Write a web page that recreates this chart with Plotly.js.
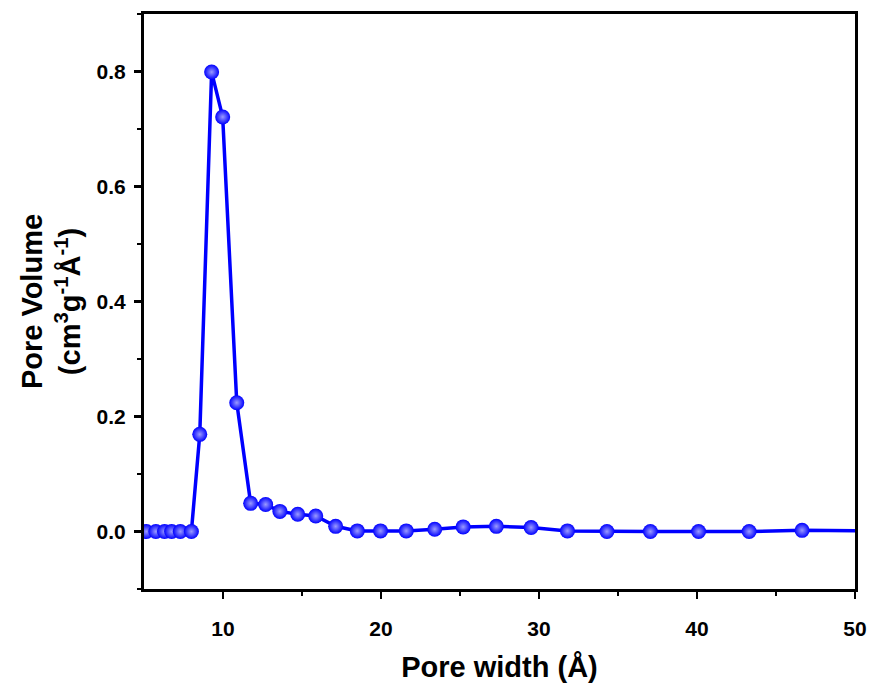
<!DOCTYPE html>
<html>
<head>
<meta charset="utf-8">
<script src="https://cdn.plot.ly/plotly-3.0.1.min.js"></script>
<style>html,body{margin:0;padding:0;background:#fff;}#chart{width:874px;height:686px;}</style>
</head>
<body>
<div id="chart"></div>
<script>
const poreWidth = [5.15, 5.75, 6.3, 6.75, 7.3, 8.0, 8.53, 9.28, 9.98, 10.87, 11.75, 12.7, 13.6, 14.73, 15.87, 17.13, 18.5, 19.97, 21.6, 23.4, 25.2, 27.3, 29.5, 31.8, 34.3, 37.05, 40.1, 43.3, 46.65, 50.5];
const poreVolume = [0, 0, 0, 0, 0, 0, 0.169, 0.799, 0.721, 0.224, 0.049, 0.047, 0.035, 0.030, 0.027, 0.009, 0.001, 0.001, 0.001, 0.004, 0.008, 0.009, 0.007, 0.001, 0, 0, 0, 0, 0.002, 0.001];
const xTitle = 'Pore width (Å)';
const yTitle = 'Pore Volume<br>(cm<sup>3</sup>g<sup>-1</sup>Å<sup>-1</sup>)';

const fontFam = 'Liberation Sans, Arial, sans-serif';
const trace = {
  x: poreWidth, y: poreVolume, mode: 'lines+markers', type: 'scatter',
  line: {color: '#0000ff', width: 3.5},
  marker: {color: '#0000ff', size: 15, gradient: {type: 'radial', color: '#9a9aff'}, line: {width: 0}},
  showlegend: false
};
const axisCommon = {
  showline: true, linecolor: '#000', linewidth: 3, mirror: true,
  ticks: 'outside', tickwidth: 2.5, ticklen: 7, tickcolor: '#000',
  showgrid: false, zeroline: false,
  tickfont: {family: fontFam, size: 21, color: '#000', weight: 'bold'},
  minor: {ticks: 'outside', ticklen: 4, tickwidth: 2.5, tickcolor: '#000', showgrid: false}
};
const layout = {
  width: 874, height: 686,
  margin: {l: 144, r: 19, t: 14, b: 97},
  paper_bgcolor: '#fff', plot_bgcolor: '#fff',
  xaxis: Object.assign({}, axisCommon, {
    range: [5, 50], tickvals: [10, 20, 30, 40, 50], ticktext: ['10','20','30','40','50'],
    ticklabelstandoff: 12,
    minor: Object.assign({}, axisCommon.minor, {tickvals: [15, 25, 35, 45]}),
    title: {text: xTitle, font: {family: fontFam, size: 29, color: '#000', weight: 'bold'}, standoff: 18}
  }),
  yaxis: Object.assign({}, axisCommon, {
    range: [-0.1, 0.9], tickvals: [0, 0.2, 0.4, 0.6, 0.8], ticktext: ['0.0','0.2','0.4','0.6','0.8'],
    ticklabelstandoff: 4,
    minor: Object.assign({}, axisCommon.minor, {tickvals: [-0.1, 0.1, 0.3, 0.5, 0.7, 0.9]}),
    title: {text: yTitle, font: {family: fontFam, size: 29, color: '#000', weight: 'bold'}, standoff: 8}
  })
};
Plotly.newPlot('chart', [trace], layout, {displayModeBar: false, staticPlot: true});
</script>
</body>
</html>
